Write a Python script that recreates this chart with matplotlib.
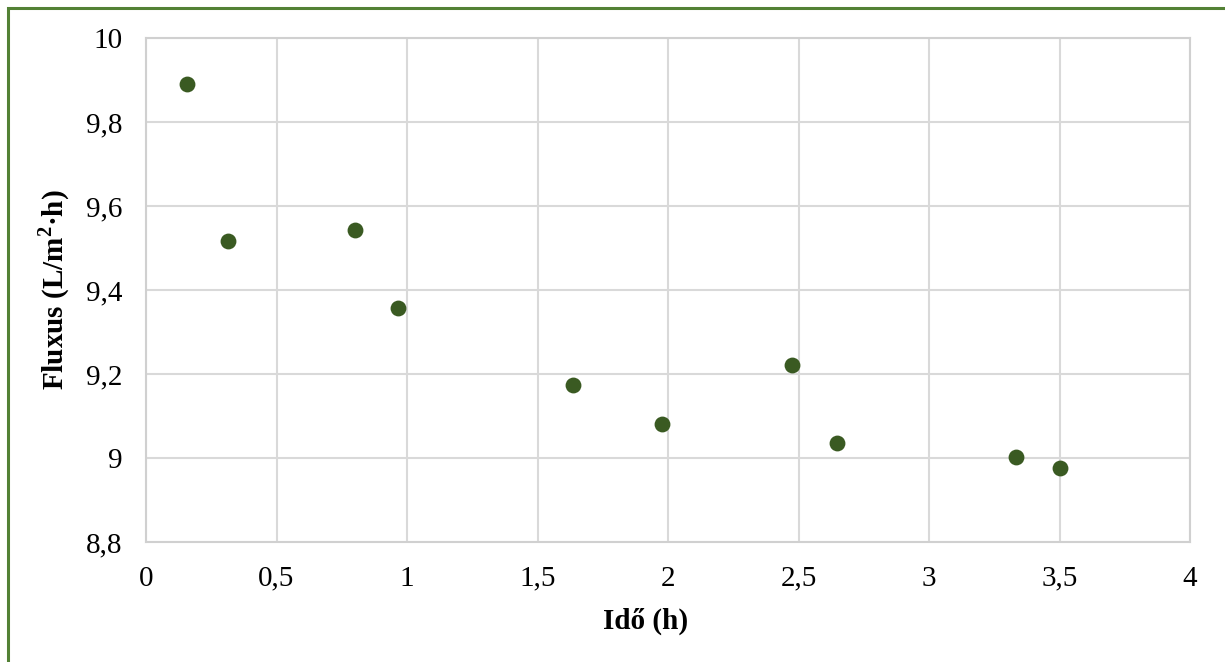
import matplotlib
matplotlib.use("Agg")
import matplotlib.pyplot as plt
from matplotlib.patches import Rectangle
from matplotlib.ticker import FuncFormatter, MultipleLocator

# Idő (h) vs fluxus
ido = [0.157, 0.314, 0.801, 0.966, 1.636, 1.977, 2.475, 2.647, 3.333, 3.502]
fluxus = [9.890, 9.517, 9.543, 9.357, 9.174, 9.081, 9.221, 9.036, 9.002, 8.976]

X_LIM = (0, 4)
Y_LIM = (8.8, 10)

plt.rcParams["font.family"] = ["Liberation Serif", "DejaVu Serif"]
plt.rcParams["mathtext.fontset"] = "custom"
plt.rcParams["mathtext.rm"] = "Liberation Serif"
plt.rcParams["mathtext.bf"] = "Liberation Serif:bold"

W, H = 1225, 662
fig = plt.figure(figsize=(W / 100, H / 100), dpi=100)
ax = fig.add_axes([146 / W, 1 - 542 / H, (1190 - 146) / W, (542 - 38) / H])

ax.scatter(ido, fluxus, s=130, color="#3a5a22", zorder=3, linewidths=0)

ax.set_xlim(*X_LIM)
ax.set_ylim(*Y_LIM)
ax.xaxis.set_major_locator(MultipleLocator(0.5))
ax.yaxis.set_major_locator(MultipleLocator(0.2))


def comma(v, _pos):
    # Hungarian style decimal comma
    return f"{round(v, 2):g}".replace(".", ",")


ax.xaxis.set_major_formatter(FuncFormatter(comma))
ax.yaxis.set_major_formatter(FuncFormatter(comma))
ax.tick_params(length=0, labelsize=21, pad=17)

ax.grid(True, color="#d9d9d9", linewidth=1.5, zorder=0)
ax.set_axisbelow(True)
for sp in ax.spines.values():
    sp.set_color("#d0d0d0")
    sp.set_linewidth(1.5)

ax.set_xlabel("Idő (h)", fontsize=21, fontweight="bold")
ax.set_ylabel(r"Fluxus (L/m$^{\mathbf{2}}$·h)", fontsize=21, fontweight="bold")
ax.xaxis.set_label_coords((646 - 146) / 1044, (542 - 608) / 504)
ax.yaxis.set_label_coords((72 - 146) / 1044, 0.5)

# green frame around the chart (runs off the right and bottom edge)
frame = Rectangle((8 / W, -0.2), 1.2, 1 - 8 / H + 0.2, transform=fig.transFigure,
                  fill=False, edgecolor="#538135", linewidth=2.2, clip_on=False)
fig.patches.append(frame)

fig.savefig("out.png", dpi=100)
plt.close(fig)
